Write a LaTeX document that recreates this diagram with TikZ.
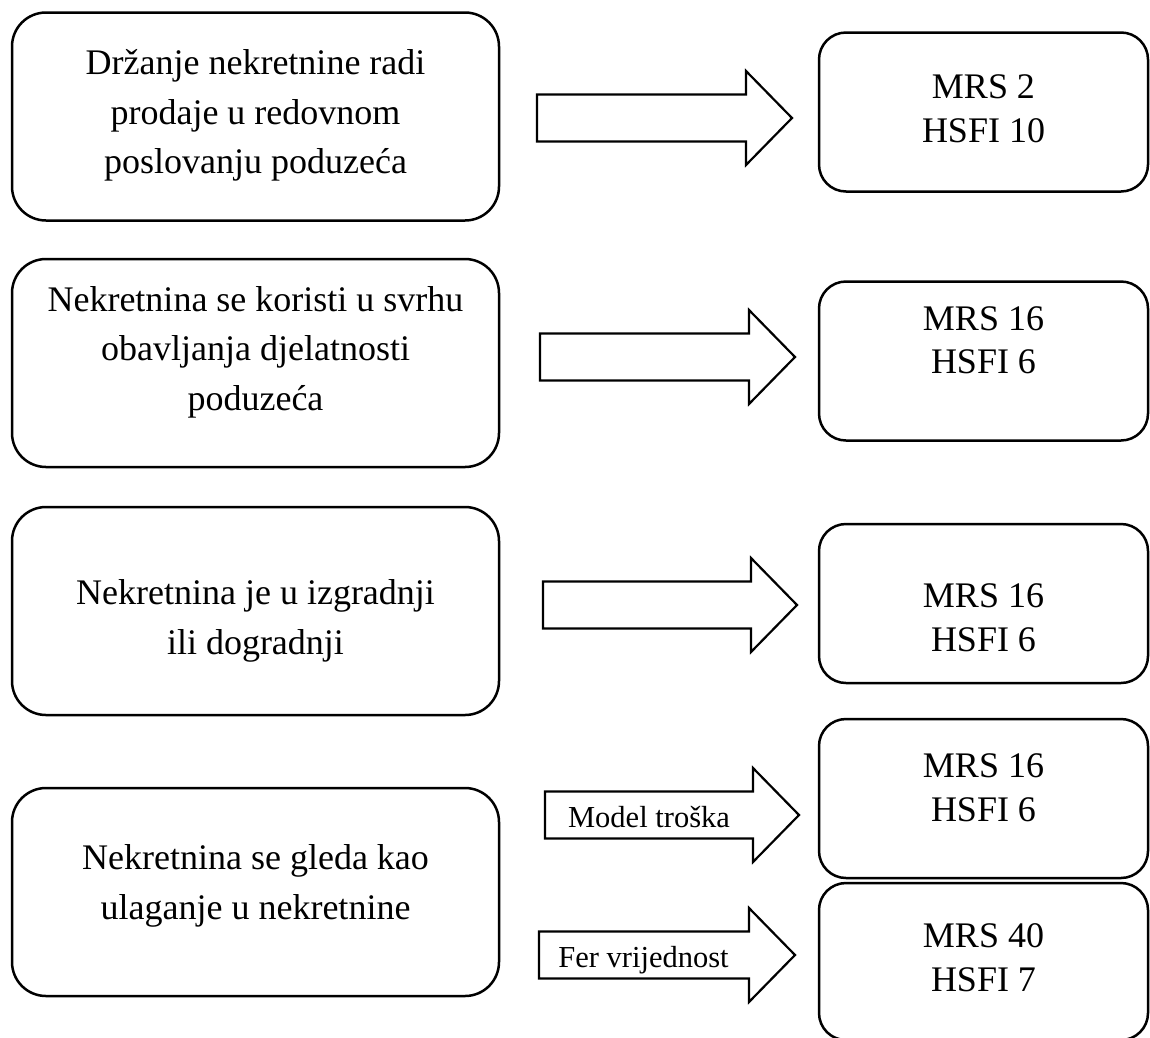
\documentclass[tikz,border=0pt]{standalone}
\usepackage{fontspec}
\setmainfont{Liberation Serif}
\newcommand{\blockArrow}[3]{
  \draw[line width=2.2pt, line join=miter]
    (#1,{#3-23.5}) -- ({#2-46},{#3-23.5}) -- ({#2-46},{#3-47}) -- (#2,#3)
    -- ({#2-46},{#3+47}) -- ({#2-46},{#3+23.5}) -- (#1,{#3+23.5}) -- cycle
}

\begin{document}
\begin{tikzpicture}[
        x=1pt, y=-1pt,
        leftbox/.style={draw, line width=2.5pt, rounded corners=34pt,
            minimum width=487pt, minimum height=208pt},
        rightbox/.style={draw, line width=2.5pt, rounded corners=27pt,
            minimum width=329pt, minimum height=159pt},
        lefttext/.style={align=center, inner sep=0pt,
            font=\fontsize{36}{49.5}\selectfont},
        righttext/.style={align=center, inner sep=0pt,
            font=\fontsize{36}{43.5}\selectfont},
        arrowlabel/.style={anchor=base, inner sep=0pt,
            font=\fontsize{30.5}{32}\selectfont},
    ]
        \path[use as bounding box, fill=white] (0,0) rectangle (1150,1037);

        % left column
        \node[leftbox] (sale)   at (255.5,116.5) {};
        \node[leftbox] (use)    at (255.5,363)   {};
        \node[leftbox] (build)  at (255.5,611)   {};
        \node[leftbox] (invest) at (255.5,892)   {};
        \node[lefttext] (sale-t)   at ([yshift=1pt]sale.center)    {Držanje nekretnine radi\\prodaje u redovnom\\poslovanju poduzeća};
        \node[lefttext] (use-t)    at ([yshift=11pt]use.center)    {Nekretnina se koristi u svrhu\\obavljanja djelatnosti\\poduzeća};
        \node[lefttext] (build-t)  at ([yshift=-10pt]build.center) {Nekretnina je u izgradnji\\ili dogradnji};
        \node[lefttext] (invest-t) at ([yshift=6pt]invest.center)  {Nekretnina se gleda kao\\ulaganje u nekretnine};

        % right column
        \node[rightbox] (std1)  at (983.5,112)   {};
        \node[rightbox] (std2)  at (983.5,361)   {};
        \node[rightbox] (std3)  at (983.5,603.5) {};
        \node[rightbox] (std4a) at (983.5,798.5) {};
        \node[rightbox, minimum height=157pt] (std4b) at (983.5,961.5) {};
        \node[righttext] (std1-t)  at ([yshift=3pt]std1.center)    {MRS 2\\HSFI 10};
        \node[righttext] (std2-t)  at ([yshift=21pt]std2.center)   {MRS 16\\HSFI 6};
        \node[righttext] (std3-t)  at ([yshift=-14pt]std3.center)  {MRS 16\\HSFI 6};
        \node[righttext] (std4a-t) at ([yshift=11pt]std4a.center)  {MRS 16\\HSFI 6};
        \node[righttext] (std4b-t) at ([yshift=4pt]std4b.center)   {MRS 40\\HSFI 7};

        % block arrows
        \blockArrow{537}{792}{118};
        \blockArrow{540}{795}{357};
        \blockArrow{543}{797}{605};
        \blockArrow{545}{799}{815};
        \blockArrow{539}{795}{955};
        \node[arrowlabel] (cost) at (649,827) {Model troška};
        \node[arrowlabel] (fair) at (643.5,967) {Fer vrijednost};
\end{tikzpicture}
\end{document}
